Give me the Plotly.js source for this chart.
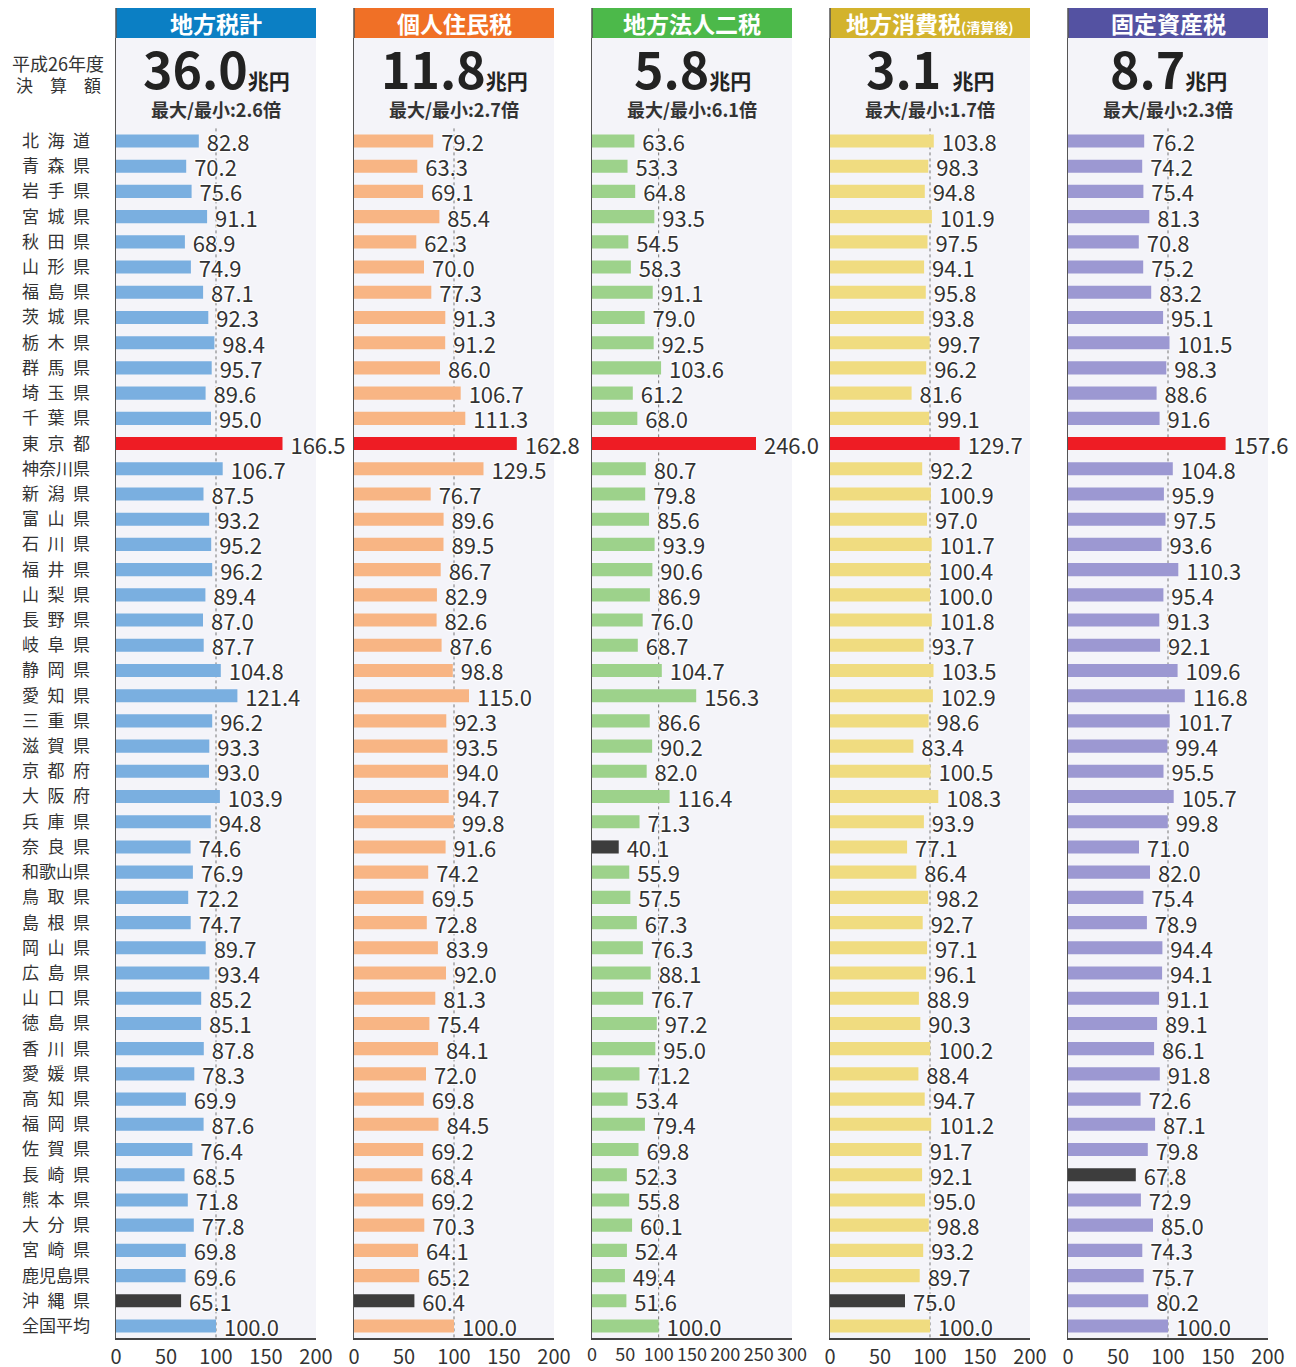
<!DOCTYPE html>
<html>
<head>
<meta charset="utf-8">
<script src="https://cdn.plot.ly/plotly-3.0.1.min.js"></script>
<style>
html,body{margin:0;padding:0;background:#fff;}
#chart{width:1296px;height:1367px;}
</style>
</head>
<body>
<div id="chart"></div>
<script>
// ---- Data ----
const prefectures = ["北海道","青森県","岩手県","宮城県","秋田県","山形県","福島県","茨城県","栃木県","群馬県","埼玉県","千葉県","東京都","神奈川県","新潟県","富山県","石川県","福井県","山梨県","長野県","岐阜県","静岡県","愛知県","三重県","滋賀県","京都府","大阪府","兵庫県","奈良県","和歌山県","鳥取県","島根県","岡山県","広島県","山口県","徳島県","香川県","愛媛県","高知県","福岡県","佐賀県","長崎県","熊本県","大分県","宮崎県","鹿児島県","沖縄県","全国平均"];

const localTaxTotal = [82.8,70.2,75.6,91.1,68.9,74.9,87.1,92.3,98.4,95.7,89.6,95.0,166.5,106.7,87.5,93.2,95.2,96.2,89.4,87.0,87.7,104.8,121.4,96.2,93.3,93.0,103.9,94.8,74.6,76.9,72.2,74.7,89.7,93.4,85.2,85.1,87.8,78.3,69.9,87.6,76.4,68.5,71.8,77.8,69.8,69.6,65.1,100.0];
const individualResidentTax = [79.2,63.3,69.1,85.4,62.3,70.0,77.3,91.3,91.2,86.0,106.7,111.3,162.8,129.5,76.7,89.6,89.5,86.7,82.9,82.6,87.6,98.8,115.0,92.3,93.5,94.0,94.7,99.8,91.6,74.2,69.5,72.8,83.9,92.0,81.3,75.4,84.1,72.0,69.8,84.5,69.2,68.4,69.2,70.3,64.1,65.2,60.4,100.0];
const corporateTwoTaxes = [63.6,53.3,64.8,93.5,54.5,58.3,91.1,79.0,92.5,103.6,61.2,68.0,246.0,80.7,79.8,85.6,93.9,90.6,86.9,76.0,68.7,104.7,156.3,86.6,90.2,82.0,116.4,71.3,40.1,55.9,57.5,67.3,76.3,88.1,76.7,97.2,95.0,71.2,53.4,79.4,69.8,52.3,55.8,60.1,52.4,49.4,51.6,100.0];
const localConsumptionTax = [103.8,98.3,94.8,101.9,97.5,94.1,95.8,93.8,99.7,96.2,81.6,99.1,129.7,92.2,100.9,97.0,101.7,100.4,100.0,101.8,93.7,103.5,102.9,98.6,83.4,100.5,108.3,93.9,77.1,86.4,98.2,92.7,97.1,96.1,88.9,90.3,100.2,88.4,94.7,101.2,91.7,92.1,95.0,98.8,93.2,89.7,75.0,100.0];
const fixedAssetTax = [76.2,74.2,75.4,81.3,70.8,75.2,83.2,95.1,101.5,98.3,88.6,91.6,157.6,104.8,95.9,97.5,93.6,110.3,95.4,91.3,92.1,109.6,116.8,101.7,99.4,95.5,105.7,99.8,71.0,82.0,75.4,78.9,94.4,94.1,91.1,89.1,86.1,91.8,72.6,87.1,79.8,67.8,72.9,85.0,74.3,75.7,80.2,100.0];

const panelTitles = ["地方税計","個人住民税","地方法人二税","地方消費税<span style=\"font-size:14px\">(清算後)</span>","固定資産税"];
const panelTotals = ["36.0","11.8","5.8","3.1\u00a0","8.7"];
const totalUnit = "兆円";
const panelRatios = ["最大/最小:2.6倍","最大/最小:2.7倍","最大/最小:6.1倍","最大/最小:1.7倍","最大/最小:2.3倍"];
const axisMax = [200,200,300,200,200];
const tickValues200 = [0,50,100,150,200];
const tickValues300 = [0,50,100,150,200,250,300];
const yearLabel = ["平成26年度","決\u3000算\u3000額"];

// ---- Styling ----
const seriesList = [localTaxTotal, individualResidentTax, corporateTwoTaxes, localConsumptionTax, fixedAssetTax];
const headerColors = ["#0b7fc4","#f07026","#4cb94a","#d3b32d","#5452a2"];
const barColors = ["#7aafe0","#f8b584","#9dd28b","#f0dc80","#9c98d2"];
const maxColor = "#ee1c24";
const minColor = "#3d3d3d";
const FONT = "'Noto Sans CJK JP', 'Noto Sans', sans-serif";
const W = 1296, H = 1367;
const panelLeft = [116,354,592,830,1068];
const panelWidth = 200;
const plotTop = 38, plotBottom = 1338;
const rowFirst = 141, rowLast = 1326;
const rowStep = (rowLast - rowFirst) / 47;
const yRange = [47 + (plotBottom - rowLast)/rowStep, -(rowFirst - plotTop)/rowStep];

const px = p => p / W;
const py = p => 1 - p / H;

const tickLabels = prefectures.map(n => n.length === 3 ? n.split("").join("\u2002") : n);

const data = [];
const layout = {
  width: W, height: H,
  margin: {l:0, r:0, t:0, b:0},
  paper_bgcolor: "#ffffff",
  plot_bgcolor: "#f4f4f9",
  showlegend: false,
  hovermode: false,
  font: {family: FONT, color: "#333"},
  shapes: [],
  annotations: [],
  bargap: 0.48
};

seriesList.forEach((vals, k) => {
  const prefVals = vals.slice(0, vals.length - 1);
  const mx = Math.max(...prefVals), mn = Math.min(...prefVals);
  const colors = vals.map((v, i) => i === vals.length - 1 ? barColors[k] : (v === mx ? maxColor : (v === mn ? minColor : barColors[k])));
  const xa = k === 0 ? "x" : "x" + (k+1);
  const ya = k === 0 ? "y" : "y" + (k+1);
  data.push({
    type: "bar",
    orientation: "h",
    x: vals,
    y: prefectures,
    xaxis: xa, yaxis: ya,
    marker: {color: colors, line: {width: 0}},
    width: 0.52,
    text: vals.map(v => "\u00a0" + v.toFixed(1)),
    textposition: "outside",
    constraintext: "none",
    cliponaxis: false,
    textfont: {family: FONT, size: 22, color: "#333", shadow: "1px 1px 1px #fff, -1px -1px 1px #fff, 1px -1px 1px #fff, -1px 1px 1px #fff, 0 0 2px #fff"},
    hoverinfo: "skip"
  });
  const xKey = k === 0 ? "xaxis" : "xaxis" + (k+1);
  const yKey = k === 0 ? "yaxis" : "yaxis" + (k+1);
  layout[xKey] = {
    domain: [px(panelLeft[k]), px(panelLeft[k] + panelWidth)],
    anchor: ya,
    range: [0, axisMax[k]],
    tickmode: "array",
    tickvals: axisMax[k] === 300 ? tickValues300 : tickValues200,
    ticktext: (axisMax[k] === 300 ? tickValues300 : tickValues200).map(String),
    tickangle: 0,
    ticks: "",
    showgrid: false, zeroline: false,
    showline: true, linecolor: "#444", linewidth: 1.5,
    tickfont: {family: FONT, size: axisMax[k] === 300 ? 18 : 20, color: "#333"},
    fixedrange: true
  };
  layout[yKey] = {
    domain: [1 - plotBottom/H, 1 - plotTop/H],
    anchor: xa,
    type: "category",
    categoryorder: "array",
    categoryarray: prefectures,
    range: yRange,
    showgrid: false, zeroline: false,
    showline: true, linecolor: "#555", linewidth: 1.5,
    ticks: "",
    showticklabels: k === 0,
    tickmode: "array",
    tickvals: prefectures,
    ticktext: tickLabels,
    ticklabelstandoff: 21,
    tickfont: {family: FONT, size: 17, color: "#333"},
    fixedrange: true
  };
  // dotted 100 line
  layout.shapes.push({
    type: "line", xref: xa, yref: ya, layer: "below",
    x0: 100, x1: 100, y0: -0.5, y1: yRange[0],
    line: {color: "#777", width: 1, dash: "dot"}
  });
  // header box
  layout.shapes.push({
    type: "rect", xref: "paper", yref: "paper",
    x0: px(panelLeft[k]), x1: px(panelLeft[k] + panelWidth),
    y0: py(plotTop), y1: py(8),
    fillcolor: headerColors[k], line: {width: 0}
  });
  layout.shapes.push({
    type: "line", xref: "paper", yref: "paper",
    x0: px(panelLeft[k]), x1: px(panelLeft[k]),
    y0: py(plotTop), y1: py(8),
    line: {color: "#555", width: 1.5}
  });
  const cx = px(panelLeft[k] + panelWidth/2);
  layout.annotations.push({
    xref: "paper", yref: "paper", x: cx, y: py(23),
    xanchor: "center", yanchor: "middle", showarrow: false,
    text: "<b>" + panelTitles[k] + "</b>",
    font: {family: FONT, size: 23, color: "#ffffff"}
  });
  layout.annotations.push({
    xref: "paper", yref: "paper", x: cx, y: py(67),
    xanchor: "center", yanchor: "middle", showarrow: false,
    text: "<b>" + panelTotals[k] + "</b><b><span style=\"font-size:21px\">" + totalUnit + "</span></b>",
    font: {family: FONT, size: 50, color: "#222"}
  });
  layout.annotations.push({
    xref: "paper", yref: "paper", x: cx, y: py(109),
    xanchor: "center", yanchor: "middle", showarrow: false,
    text: "<b>" + panelRatios[k] + "</b>",
    font: {family: FONT, size: 18, color: "#333"}
  });
});

layout.annotations.push({
  xref: "paper", yref: "paper", x: px(58), y: py(63),
  xanchor: "center", yanchor: "middle", showarrow: false,
  text: yearLabel[0], font: {family: FONT, size: 18, color: "#333"}
});
layout.annotations.push({
  xref: "paper", yref: "paper", x: px(58), y: py(84),
  xanchor: "center", yanchor: "middle", showarrow: false,
  text: yearLabel[1], font: {family: FONT, size: 17, color: "#333"}
});

Plotly.newPlot("chart", data, layout, {displayModeBar: false, staticPlot: true});
</script>
</body>
</html>
